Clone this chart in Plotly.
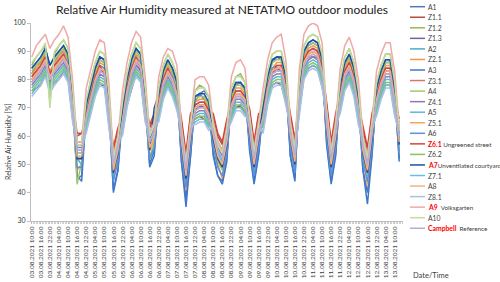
import pandas as pd
import plotly.graph_objects as go

# ---------------- data (3-hourly readings, 03.08.2021 10:00 onward) ----------------
timestamps = pd.date_range("2021-08-03 10:00", periods=82, freq="3h")
tick_times = pd.date_range("2021-08-03 10:00", "2021-08-13 10:00", freq="6h")
tick_labels = [t.strftime("%d.%m.%Y %H:%M") for t in tick_times]

series_names = ["A1", "Z1.1", "Z1.2", "Z1.3", "A2", "Z2.1", "A3", "Z3.1", "A4", "Z4.1", "A5",
                "Z5.1", "A6", "Z6.1", "Z6.2", "A7", "Z7.1", "A8", "Z8.1", "A9", "A10", "Campbell"]

A1 = [82, 85, 86, 90, 80, 86, 89, 90, 88, 71, 46, 44, 68, 77, 84, 87, 86, 70, 41, 48,
      67, 79, 86, 90, 88, 72, 50, 55, 72, 82, 86, 84, 78, 51, 38, 53, 72, 75, 73, 70,
      54, 46, 44, 53, 73, 78, 79, 76, 57, 44, 54, 69, 80, 86, 88, 87, 80, 53, 45, 77,
      89, 92, 93, 92, 86, 58, 44, 54, 77, 85, 88, 83, 72, 48, 40, 54, 76, 82, 86, 86, 76, 52]
Z1_1 = [76, 77, 78, 82, 77, 79, 80, 83, 81, 68, 60, 61, 63, 69, 75, 78, 78, 66, 55, 62,
        62, 71, 77, 82, 80, 67, 63, 67, 67, 74, 78, 75, 71, 65, 53, 67, 66, 67, 66, 64,
        67, 60, 57, 65, 67, 70, 71, 68, 69, 57, 67, 63, 72, 78, 79, 78, 72, 67, 58, 69,
        81, 84, 85, 84, 78, 71, 57, 67, 69, 77, 80, 75, 66, 62, 55, 67, 68, 74, 78, 78, 68, 65]
Z1_2 = [85, 88, 90, 92, 72, 89, 92, 94, 91, 76, 53, 52, 72, 80, 86, 90, 89, 74, 48, 55,
        71, 82, 89, 93, 91, 76, 56, 60, 77, 85, 89, 86, 81, 58, 46, 60, 76, 78, 77, 74,
        60, 53, 50, 58, 77, 81, 82, 79, 62, 50, 60, 73, 83, 89, 90, 90, 83, 60, 51, 80,
        92, 95, 96, 95, 89, 64, 50, 60, 80, 88, 91, 86, 76, 55, 48, 60, 79, 85, 89, 89, 79, 58]
Z1_3 = [79, 81, 83, 85, 80, 83, 85, 88, 84, 70, 57, 57, 66, 73, 79, 84, 82, 68, 52, 59,
        65, 75, 82, 85, 84, 70, 60, 64, 70, 78, 81, 79, 74, 62, 50, 64, 69, 71, 70, 67,
        64, 57, 54, 62, 70, 74, 74, 72, 66, 54, 64, 66, 76, 82, 84, 83, 76, 64, 55, 73,
        85, 88, 88, 88, 82, 68, 54, 64, 73, 81, 83, 79, 69, 59, 52, 64, 72, 78, 82, 82, 72, 62]
A2 = [80, 82, 84, 87, 79, 84, 86, 88, 85, 71, 52, 50, 67, 74, 80, 84, 83, 69, 46, 54,
      66, 76, 83, 87, 85, 71, 55, 59, 71, 79, 83, 80, 75, 57, 44, 59, 70, 71, 71, 68,
      59, 52, 49, 57, 71, 75, 75, 73, 61, 49, 59, 67, 77, 83, 84, 84, 77, 59, 50, 74,
      87, 89, 90, 89, 83, 63, 49, 59, 74, 82, 85, 80, 70, 54, 47, 59, 73, 79, 83, 83, 73, 57]
Z2_1 = [82, 84, 86, 89, 83, 86, 88, 90, 87, 73, 48, 50, 69, 76, 82, 86, 85, 71, 45, 52,
        68, 78, 84, 89, 87, 73, 53, 57, 73, 81, 85, 82, 77, 55, 41, 57, 72, 73, 73, 70,
        57, 50, 45, 55, 73, 77, 77, 75, 59, 47, 57, 69, 79, 84, 86, 86, 79, 57, 48, 76,
        88, 91, 92, 91, 85, 61, 47, 57, 76, 84, 87, 82, 72, 52, 43, 57, 75, 81, 85, 85, 75, 55]
A3 = [84, 86, 88, 91, 85, 88, 90, 92, 89, 73, 45, 46, 71, 78, 84, 88, 87, 71, 40, 48,
      70, 80, 87, 91, 89, 73, 49, 53, 75, 83, 87, 84, 79, 51, 35, 53, 74, 75, 76, 74,
      53, 46, 43, 51, 75, 79, 79, 77, 55, 43, 53, 71, 81, 87, 88, 88, 81, 53, 44, 78,
      90, 93, 94, 93, 87, 57, 43, 53, 78, 86, 89, 84, 74, 48, 36, 53, 77, 83, 87, 87, 77, 51]
Z3_1 = [80, 82, 84, 87, 81, 84, 86, 88, 85, 71, 58, 58, 67, 74, 80, 84, 83, 69, 53, 60,
        66, 76, 83, 87, 85, 71, 61, 65, 71, 79, 83, 80, 75, 63, 51, 65, 70, 71, 71, 68,
        65, 58, 55, 63, 71, 75, 75, 73, 67, 55, 65, 67, 77, 83, 84, 84, 77, 65, 56, 74,
        86, 89, 90, 89, 83, 69, 55, 65, 74, 82, 85, 80, 70, 60, 53, 65, 73, 79, 83, 83, 73, 63]
A4 = [83, 85, 87, 90, 74, 87, 89, 91, 88, 74, 43, 51, 70, 77, 83, 87, 86, 72, 46, 53,
      69, 79, 86, 90, 88, 74, 52, 58, 74, 82, 86, 83, 78, 56, 44, 58, 73, 74, 74, 71,
      58, 51, 48, 56, 74, 78, 78, 76, 60, 48, 58, 70, 80, 86, 87, 87, 80, 58, 49, 77,
      89, 92, 93, 92, 86, 62, 48, 58, 77, 85, 88, 83, 73, 53, 46, 58, 76, 82, 86, 86, 76, 56]
Z4_1 = [78, 80, 82, 85, 79, 82, 84, 86, 83, 69, 56, 56, 65, 72, 78, 82, 81, 67, 51, 58,
        64, 74, 81, 85, 83, 69, 59, 63, 69, 77, 81, 78, 73, 61, 49, 63, 68, 69, 69, 66,
        63, 56, 53, 61, 69, 73, 73, 71, 65, 53, 63, 65, 75, 81, 82, 82, 75, 63, 54, 72,
        84, 87, 88, 87, 81, 67, 53, 63, 72, 80, 83, 78, 68, 58, 51, 63, 71, 77, 81, 81, 71, 61]
A5 = [77, 79, 81, 84, 78, 81, 83, 85, 82, 68, 54, 54, 64, 71, 77, 81, 80, 66, 49, 56,
      63, 73, 80, 84, 82, 68, 57, 61, 68, 76, 80, 77, 72, 59, 47, 61, 67, 68, 68, 65,
      61, 54, 51, 59, 68, 72, 72, 70, 63, 51, 61, 64, 74, 80, 81, 81, 74, 61, 52, 71,
      83, 86, 87, 86, 80, 65, 51, 61, 71, 79, 82, 77, 67, 56, 49, 61, 70, 76, 80, 80, 70, 59]
Z5_1 = [79, 81, 83, 86, 80, 83, 85, 87, 84, 70, 52, 52, 66, 73, 79, 83, 82, 68, 47, 54,
        65, 75, 82, 86, 84, 70, 55, 59, 70, 78, 82, 79, 74, 57, 45, 59, 69, 70, 70, 67,
        59, 52, 49, 57, 70, 74, 74, 72, 61, 49, 59, 66, 76, 82, 83, 83, 76, 59, 50, 73,
        85, 88, 89, 88, 82, 63, 49, 59, 73, 81, 84, 79, 69, 54, 47, 59, 72, 78, 82, 82, 72, 57]
A6 = [81, 83, 85, 88, 82, 85, 87, 89, 86, 72, 49, 49, 68, 75, 81, 85, 84, 70, 44, 51,
      67, 77, 84, 88, 86, 72, 52, 56, 72, 80, 84, 81, 76, 54, 42, 56, 71, 72, 72, 69,
      56, 49, 46, 54, 72, 76, 76, 74, 58, 46, 56, 68, 78, 84, 85, 85, 78, 56, 47, 75,
      87, 90, 91, 90, 84, 60, 46, 56, 75, 83, 86, 81, 71, 51, 44, 56, 74, 80, 84, 84, 74, 54]
Z6_1 = [81, 83, 85, 88, 82, 85, 87, 89, 84, 72, 61, 61, 68, 75, 81, 85, 82, 70, 56, 63,
        67, 77, 84, 88, 83, 72, 64, 68, 72, 80, 84, 79, 76, 66, 54, 68, 71, 72, 72, 69,
        68, 61, 58, 66, 72, 76, 76, 74, 70, 58, 68, 68, 78, 82, 85, 85, 78, 68, 59, 75,
        87, 90, 91, 90, 84, 72, 58, 68, 75, 83, 86, 81, 71, 63, 56, 68, 74, 80, 84, 84, 74, 66]
Z6_2 = [76, 78, 80, 83, 77, 80, 82, 84, 81, 67, 58, 58, 63, 70, 76, 80, 79, 65, 53, 60,
        62, 72, 79, 83, 81, 67, 61, 65, 67, 75, 79, 76, 71, 63, 51, 65, 66, 67, 67, 64,
        65, 58, 55, 63, 67, 71, 71, 69, 67, 55, 65, 63, 73, 79, 80, 80, 73, 65, 56, 70,
        82, 85, 86, 85, 79, 69, 55, 65, 70, 78, 81, 76, 66, 60, 53, 65, 69, 75, 79, 79, 69, 63]
A7 = [84, 86, 88, 91, 85, 88, 90, 92, 89, 75, 52, 52, 71, 78, 84, 88, 87, 73, 47, 54,
      70, 80, 87, 91, 89, 75, 55, 70, 75, 83, 87, 84, 79, 57, 45, 59, 74, 75, 75, 72,
      59, 52, 49, 57, 75, 79, 79, 77, 61, 49, 59, 71, 81, 87, 88, 88, 81, 59, 50, 78,
      90, 93, 94, 93, 87, 63, 49, 59, 78, 86, 89, 84, 74, 54, 47, 59, 77, 83, 87, 87, 77, 57]
Z7_1 = [75, 77, 79, 82, 76, 79, 81, 83, 80, 66, 55, 55, 62, 69, 75, 79, 78, 64, 50, 57,
        61, 71, 78, 82, 80, 66, 58, 62, 66, 74, 78, 75, 70, 60, 48, 62, 65, 66, 66, 63,
        62, 55, 52, 60, 66, 70, 70, 68, 64, 52, 62, 62, 72, 78, 79, 79, 72, 62, 53, 69,
        81, 84, 85, 84, 78, 66, 52, 62, 69, 77, 80, 75, 65, 57, 50, 62, 68, 74, 78, 78, 68, 60]
A8 = [80, 82, 84, 87, 81, 84, 86, 88, 85, 71, 53, 53, 67, 74, 80, 84, 83, 69, 48, 55,
      66, 76, 83, 87, 85, 71, 56, 60, 71, 79, 83, 80, 75, 58, 46, 60, 70, 71, 71, 68,
      60, 53, 50, 58, 71, 75, 75, 73, 62, 50, 60, 67, 77, 83, 84, 84, 77, 60, 51, 74,
      86, 89, 90, 89, 83, 64, 50, 60, 74, 82, 85, 80, 70, 55, 48, 60, 73, 79, 83, 83, 73, 58]
Z8_1 = [74, 76, 78, 81, 75, 78, 80, 82, 79, 65, 57, 57, 61, 68, 74, 78, 77, 63, 52, 59,
        60, 70, 77, 81, 79, 65, 60, 64, 65, 73, 77, 74, 69, 62, 50, 64, 64, 65, 65, 62,
        64, 57, 54, 62, 65, 69, 69, 67, 66, 54, 64, 61, 71, 77, 78, 78, 71, 64, 55, 68,
        80, 83, 84, 83, 77, 68, 54, 64, 68, 76, 79, 74, 64, 59, 52, 64, 67, 73, 77, 77, 67, 62]
A9 = [88, 92, 94, 96, 91, 94, 96, 99, 95, 80, 58, 58, 77, 84, 90, 94, 93, 79, 53, 60,
      76, 86, 93, 97, 95, 81, 61, 65, 81, 88, 91, 90, 85, 63, 51, 65, 80, 81, 81, 78,
      65, 58, 55, 63, 81, 86, 87, 84, 67, 55, 65, 77, 87, 93, 95, 96, 87, 65, 56, 84,
      96, 99, 100, 99, 93, 69, 55, 65, 84, 92, 95, 90, 80, 60, 53, 65, 83, 89, 93, 93, 83, 63]
A10 = [86, 88, 90, 93, 70, 90, 92, 94, 91, 77, 57, 57, 73, 80, 86, 90, 89, 75, 52, 59,
       72, 82, 89, 93, 91, 77, 60, 64, 77, 85, 89, 86, 81, 62, 50, 64, 76, 77, 77, 74,
       64, 57, 54, 62, 77, 81, 81, 79, 66, 54, 64, 73, 83, 89, 90, 90, 83, 64, 55, 80,
       92, 95, 96, 95, 89, 68, 54, 64, 80, 88, 91, 86, 76, 59, 52, 64, 79, 85, 89, 89, 79, 62]
Campbell = [79, 81, 83, 86, 80, 83, 85, 87, 84, 70, 55, 55, 66, 73, 79, 83, 82, 68, 50, 57,
            65, 75, 82, 86, 84, 70, 58, 62, 70, 78, 82, 79, 74, 60, 48, 62, 69, 70, 70, 67,
            62, 55, 52, 60, 70, 74, 74, 72, 64, 52, 62, 66, 76, 82, 83, 83, 76, 62, 53, 73,
            85, 88, 89, 88, 82, 66, 52, 62, 73, 81, 84, 79, 69, 57, 50, 62, 72, 78, 82, 82, 72, 60]

series_values = [A1, Z1_1, Z1_2, Z1_3, A2, Z2_1, A3, Z3_1, A4, Z4_1, A5,
                 Z5_1, A6, Z6_1, Z6_2, A7, Z7_1, A8, Z8_1, A9, A10, Campbell]

series_colors = ["#4A7BC0", "#B84A47", "#98B954", "#7D5FA0", "#4BACC6", "#F79646",
                 "#3D78CC", "#DB7471", "#A3C76A", "#8E79B6", "#5DBAD6", "#F8A35A",
                 "#5C92DA", "#D8433F", "#88C25A", "#1F4FA0", "#67C0E3", "#FAB07A",
                 "#A9C2DF", "#EFA9A6", "#C4DC9E", "#B6ACD6"]

legend_suffix = {"Z6.1": " Ungreened street", "A7": "Unventilated courtyard",
                 "A9": "  Volksgarten", "Campbell": "  Reference"}

# ---------------- figure ----------------
W, H = 500, 282
L, R, T, B = 31, 97, 23, 61
plot_w = W - L - R
plot_h = H - T - B

fig = go.Figure()
for name, vals, col in zip(series_names, series_values, series_colors):
    fig.add_trace(go.Scatter(x=timestamps, y=vals, mode="lines", name=name,
                             line=dict(color=col, width=1.5), showlegend=False))

FONT = "Lato, 'Liberation Sans', sans-serif"
x0 = pd.Timestamp("2021-08-03 09:30")
x1 = pd.Timestamp("2021-08-13 15:30")

def px_to_paper_x(px):
    return (px - L) / plot_w

def px_to_paper_y(py):
    return (H - B - py) / plot_h

annotations = []
shapes = []
# manual legend
for k, (name, col) in enumerate(zip(series_names, series_colors)):
    yc = px_to_paper_y(6.7 + k * 10.55)
    shapes.append(dict(type="line", xref="paper", yref="paper",
                       x0=px_to_paper_x(410), x1=px_to_paper_x(425), y0=yc, y1=yc,
                       line=dict(color=col, width=1.5)))
    if name in legend_suffix:
        txt = ("<b><span style='color:#FF0000'>%s</span></b>"
               "<span style='font-size:6.3px'>%s</span>") % (name, legend_suffix[name])
    else:
        txt = name
    annotations.append(dict(text=txt, xref="paper", yref="paper",
                            x=px_to_paper_x(426), y=yc, xanchor="left", yanchor="middle",
                            showarrow=False, font=dict(size=6.8, color="#404040", family=FONT)))

annotations.append(dict(text="Date/Time", xref="paper", yref="paper",
                        x=px_to_paper_x(411), y=px_to_paper_y(275), xanchor="left", yanchor="middle",
                        showarrow=False, font=dict(size=7.5, color="#404040", family=FONT)))
annotations.append(dict(text="Relative Air Humidity [%]", xref="paper", yref="paper",
                        x=px_to_paper_x(8), y=px_to_paper_y(142), xanchor="center", yanchor="middle",
                        textangle=-90, showarrow=False,
                        font=dict(size=7, color="#404040", family=FONT)))

fig.update_layout(
    width=W, height=H,
    margin=dict(l=L, r=R, t=T, b=B, autoexpand=False),
    paper_bgcolor="white", plot_bgcolor="white",
    title=dict(text="Relative Air Humidity measured at NETATMO outdoor modules",
               x=222 / W, xanchor="center", y=1 - 10 / H, yanchor="middle",
               font=dict(size=12, color="#222222", family=FONT)),
    annotations=annotations, shapes=shapes, showlegend=False,
)
fig.update_xaxes(range=[x0, x1], tickmode="array", tickvals=tick_times, ticktext=tick_labels,
                 tickangle=-90, tickfont=dict(size=6.5, color="#404040", family=FONT),
                 automargin=False,
                 showgrid=False, zeroline=False, showline=True, linecolor="#BFBFBF", linewidth=1,
                 ticks="outside", ticklen=2, tickcolor="#BFBFBF",
                 minor=dict(dtick=3600000, ticks="outside", ticklen=2, tickcolor="#D0D0D0", showgrid=False))
fig.update_yaxes(range=[30, 100], dtick=10, tickfont=dict(size=7, color="#404040", family=FONT),
                 automargin=False,
                 showgrid=False, zeroline=False, showline=True, linecolor="#BFBFBF", linewidth=1,
                 ticks="outside", ticklen=3, tickcolor="#BFBFBF")

fig.write_html("out.html", config={"displayModeBar": False},
               post_script="document.body.style.margin='0px';document.body.style.overflow='hidden';")
